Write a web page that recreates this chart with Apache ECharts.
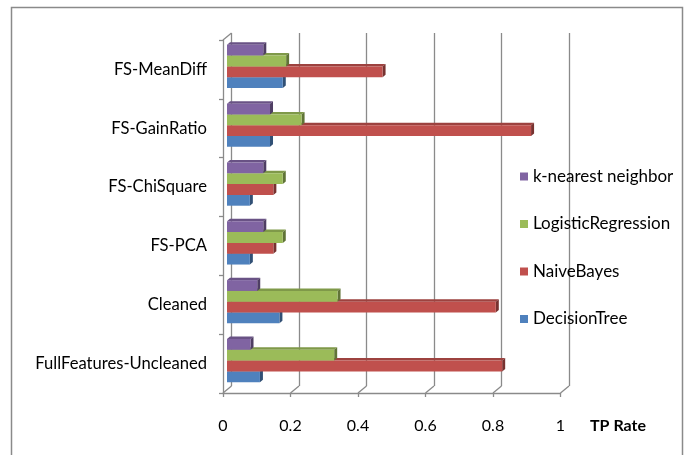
<!DOCTYPE html>
<html>
<head>
<meta charset="utf-8">
<script src="https://cdn.jsdelivr.net/npm/echarts@6/dist/echarts.min.js"></script>
<style>
  html, body { margin: 0; padding: 0; background: #fff; }
  #chart { width: 685px; height: 455px; }
</style>
</head>
<body>
<div id="chart"></div>
<script>
// Category order bottom-to-top along the y axis
const categories = ['FullFeatures-Uncleaned', 'Cleaned', 'FS-PCA', 'FS-ChiSquare', 'FS-GainRatio', 'FS-MeanDiff'];

// TP rate per classifier, one value per category (same order as above)
const decisionTree       = [0.098, 0.156, 0.068, 0.068, 0.128, 0.166];
const naiveBayes         = [0.819, 0.800, 0.138, 0.138, 0.905, 0.463];
const logisticRegression = [0.319, 0.329, 0.166, 0.166, 0.222, 0.176];
const kNearestNeighbor   = [0.070, 0.090, 0.108, 0.108, 0.128, 0.108];

const xTickValues = [0, 0.2, 0.4, 0.6, 0.8, 1];
const axisTitle = 'TP Rate';

// Series listed top-to-bottom as they sit inside each category band
const seriesDefs = [
  { name: 'k-nearest neighbor', data: kNearestNeighbor, color: '#8064A2' },
  { name: 'LogisticRegression', data: logisticRegression, color: '#9BBB59' },
  { name: 'NaiveBayes', data: naiveBayes, color: '#C0504D' },
  { name: 'DecisionTree', data: decisionTree, color: '#4F81BD' }
];

const FONT = 'Lato';
const DX = 8.5, DY = 7;      // depth of the back wall
const BDX = 3, BDY = 2.5;    // depth of each bar
const GROUP = 0.735;         // share of a band filled by the bar cluster
const frameColor = '#8a8a8a';

function shade(hex, f) {
  const n = parseInt(hex.slice(1), 16);
  const r = Math.round(((n >> 16) & 255) * f);
  const g = Math.round(((n >> 8) & 255) * f);
  const b = Math.round((n & 255) * f);
  return 'rgb(' + Math.min(r, 255) + ',' + Math.min(g, 255) + ',' + Math.min(b, 255) + ')';
}

function makeBarRenderer(slot, count, color) {
  const topCol = shade(color, 0.82);
  const sideCol = shade(color, 0.62);
  return function (params, api) {
    const v = api.value(0);
    const ci = api.value(1);
    const p0 = api.coord([0, ci]);
    const p1 = api.coord([v, ci]);
    const band = api.size([0, 1])[1];
    const groupH = band * GROUP;
    const h = groupH / count;
    const y = p0[1] - groupH / 2 + slot * h;
    const x0 = p0[0], x1 = p1[0];
    return {
      type: 'group',
      children: [
        { type: 'polygon', shape: { points: [[x0, y], [x1, y], [x1 + BDX, y - BDY], [x0 + BDX, y - BDY]] },
          style: { fill: topCol } },
        { type: 'polygon', shape: { points: [[x1, y], [x1 + BDX, y - BDY], [x1 + BDX, y + h - BDY], [x1, y + h]] },
          style: { fill: sideCol } },
        { type: 'rect', shape: { x: x0, y: y, width: x1 - x0, height: h },
          style: { fill: color } }
      ]
    };
  };
}

// Floor and wall edges joining the front axes to the back wall
function frameRenderer(params, api) {
  const v = api.value(0);
  const cs = params.coordSys;
  const x = api.coord([v, 0])[0];
  const bottom = cs.y + cs.height;
  const children = [
    { type: 'line', shape: { x1: x, y1: bottom, x2: x + DX, y2: bottom - DY },
      style: { stroke: frameColor, lineWidth: 1.3 } }
  ];
  if (v === 0) {
    children.push({ type: 'line', shape: { x1: cs.x, y1: cs.y, x2: cs.x + DX, y2: cs.y - DY },
      style: { stroke: frameColor, lineWidth: 1.3 } });
  }
  return { type: 'group', children: children };
}

const FRONT = { left: 223, top: 40, width: 337.5, height: 353 };

const series = seriesDefs.map(function (s, i) {
  return {
    type: 'custom',
    name: s.name,
    xAxisIndex: 2,
    yAxisIndex: 2,
    z: 10 - i,
    itemStyle: { color: s.color },
    encode: { x: 0, y: 1 },
    data: s.data.map(function (v, ci) { return [v, ci]; }),
    renderItem: makeBarRenderer(i, seriesDefs.length, s.color)
  };
});

series.push({
  type: 'custom',
  name: 'frame',
  xAxisIndex: 0,
  yAxisIndex: 0,
  silent: true,
  z: 1,
  encode: { x: 0 },
  data: xTickValues.map(function (v) { return [v]; }),
  renderItem: frameRenderer
});

const option = {
  animation: false,
  backgroundColor: '#fff',
  textStyle: { fontFamily: FONT },
  grid: [
    { left: FRONT.left, top: FRONT.top, width: FRONT.width, height: FRONT.height },
    { left: FRONT.left + DX, top: FRONT.top - DY, width: FRONT.width, height: FRONT.height },
    { left: FRONT.left + 4, top: FRONT.top - 3, width: FRONT.width - 1.5, height: FRONT.height }
  ],
  xAxis: [
    { gridIndex: 0, type: 'value', min: 0, max: 1, interval: 0.2,
      axisLine: { show: true, lineStyle: { color: frameColor, width: 1.3 } },
      axisTick: { show: true, length: 4, lineStyle: { color: frameColor, width: 1.3 } },
      splitLine: { show: false },
      axisLabel: { color: '#000', fontSize: 16, fontFamily: FONT, margin: 25 } },
    { gridIndex: 1, type: 'value', min: 0, max: 1, interval: 0.2,
      axisLine: { show: false }, axisTick: { show: false }, axisLabel: { show: false },
      splitLine: { show: true, lineStyle: { color: frameColor, width: 1.3 } } },
    { gridIndex: 2, type: 'value', min: 0, max: 1, show: false }
  ],
  yAxis: [
    { gridIndex: 0, type: 'category', data: categories,
      axisLine: { show: true, lineStyle: { color: frameColor, width: 1.3 } },
      axisTick: { show: true, length: 4, lineStyle: { color: frameColor, width: 1.3 } },
      axisLabel: { color: '#000', fontSize: 16.6, fontFamily: FONT, margin: 16 } },
    { gridIndex: 1, type: 'category', data: categories, show: false },
    { gridIndex: 2, type: 'category', data: categories, show: false }
  ],
  legend: {
    orient: 'vertical',
    left: 515,
    top: 163,
    icon: 'rect',
    itemWidth: 8,
    itemHeight: 8,
    itemGap: 30.5,
    data: seriesDefs.map(function (s) { return s.name; }),
    textStyle: { color: '#000', fontSize: 17, fontFamily: FONT },
    selectedMode: false
  },
  title: {
    text: axisTitle,
    left: 585,
    top: 413,
    textStyle: { color: '#000', fontSize: 16, fontWeight: 'bold', fontFamily: FONT }
  },
  graphic: [
    { type: 'rect', silent: true, z: -1,
      shape: { x: 11.5, y: 7.5, width: 671, height: 460 },
      style: { fill: 'none', stroke: '#8a8a8a', lineWidth: 1.5 } }
  ],
  series: series
};

const chart = echarts.init(document.getElementById('chart'), null, { renderer: 'canvas' });
chart.setOption(option);
</script>
</body>
</html>
